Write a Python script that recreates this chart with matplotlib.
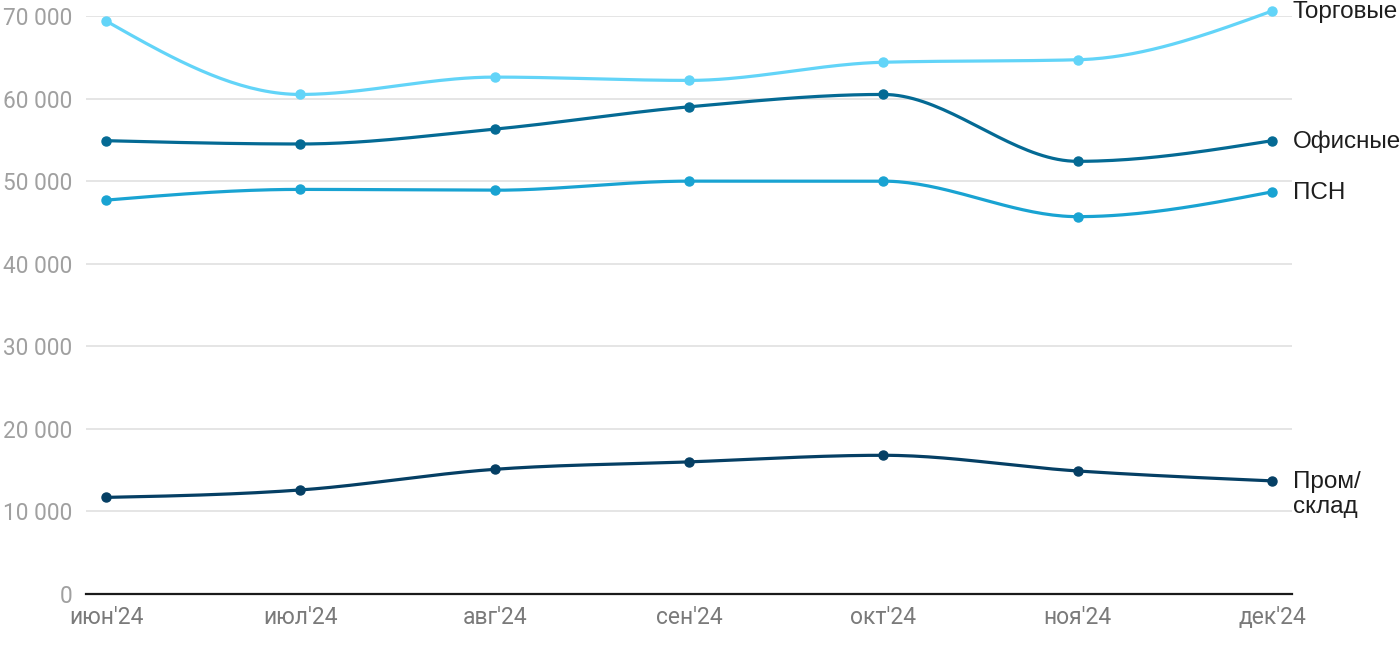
import numpy as np
import matplotlib
matplotlib.use("Agg")
import matplotlib.pyplot as plt
from matplotlib.ticker import FuncFormatter

months = ["июн'24", "июл'24", "авг'24", "сен'24", "окт'24", "ноя'24", "дек'24"]

torgovye = [69400, 60500, 62600, 62200, 64400, 64700, 70600]
ofisnye = [54900, 54500, 56300, 59000, 60500, 52400, 54900]
psn = [47700, 49000, 48900, 50000, 50000, 45700, 48700]
prom = [11700, 12600, 15100, 16000, 16800, 14900, 13700]

series = [
    ("Торговые", torgovye, "#62d4f8"),
    ("Офисные", ofisnye, "#046a94"),
    ("ПСН", psn, "#19a3d2"),
    ("Пром/\nсклад", prom, "#053f64"),
]


def monotone_curve(x, y, n=40):
    # monotone cubic (same idea as d3 curveMonotoneX), only for drawing the line
    x = np.asarray(x, float)
    y = np.asarray(y, float)
    h = np.diff(x)
    s = np.diff(y) / h
    m = np.zeros_like(y)
    for i in range(1, len(y) - 1):
        p = (s[i - 1] * h[i] + s[i] * h[i - 1]) / (h[i - 1] + h[i])
        m[i] = (np.sign(s[i - 1]) + np.sign(s[i])) * min(abs(s[i - 1]), abs(s[i]), 0.5 * abs(p))
    m[0] = (3 * s[0] - m[1]) / 2
    m[-1] = (3 * s[-1] - m[-2]) / 2
    xs, ys = [], []
    for i in range(len(h)):
        t = np.linspace(0, 1, n)
        h00 = 2 * t**3 - 3 * t**2 + 1
        h10 = t**3 - 2 * t**2 + t
        h01 = -2 * t**3 + 3 * t**2
        h11 = t**3 - t**2
        xs.append(x[i] + t * h[i])
        ys.append(h00 * y[i] + h10 * h[i] * m[i] + h01 * y[i + 1] + h11 * h[i] * m[i + 1])
    return np.concatenate(xs), np.concatenate(ys)


plt.rcParams["font.family"] = ["Roboto", "DejaVu Sans"]

fig = plt.figure(figsize=(14, 6.5), dpi=100)
ax = fig.add_axes([86 / 1400, 1 - 594 / 650, (1292 - 86) / 1400, (594 - 16) / 650])

x = np.arange(len(months))
for name, vals, col in series:
    cx, cy = monotone_curve(x, vals)
    ax.plot(cx, cy, color=col, lw=2.3, clip_on=False, zorder=3, solid_capstyle="round")
    ax.plot(x, vals, "o", color=col, ms=6.5, clip_on=False, zorder=4)
    off = -10 if "\n" in name else -1
    ax.annotate(name, (x[-1], vals[-1]), xytext=(15, off), textcoords="offset points",
                va="center", ha="left", fontsize=17.5, color="#1e1e1e",
                family=["Liberation Sans", "DejaVu Sans"], linespacing=1.15,
                annotation_clip=False)

ax.set_xlim(-0.103, 6.103)
ax.set_ylim(0, 70000)
ax.set_yticks(range(0, 70001, 10000))
ax.yaxis.set_major_formatter(FuncFormatter(lambda v, p: f"{int(v):,}".replace(",", " ")))
ax.set_xticks(x)
ax.set_xticklabels(months)

ax.grid(axis="y", color="#e3e3e3", lw=1.3)
ax.set_axisbelow(True)
for sp in ["top", "right", "left"]:
    ax.spines[sp].set_visible(False)
ax.spines["bottom"].set_color("#1a1a1a")
ax.spines["bottom"].set_linewidth(1.6)
ax.spines["bottom"].set_zorder(2)

ax.tick_params(axis="y", length=0, pad=10, labelsize=16.3, labelcolor="#a0a0a0")
ax.tick_params(axis="x", length=0, pad=9, labelsize=16.5, labelcolor="#7a7a7a")

fig.savefig("out.png", dpi=100)
